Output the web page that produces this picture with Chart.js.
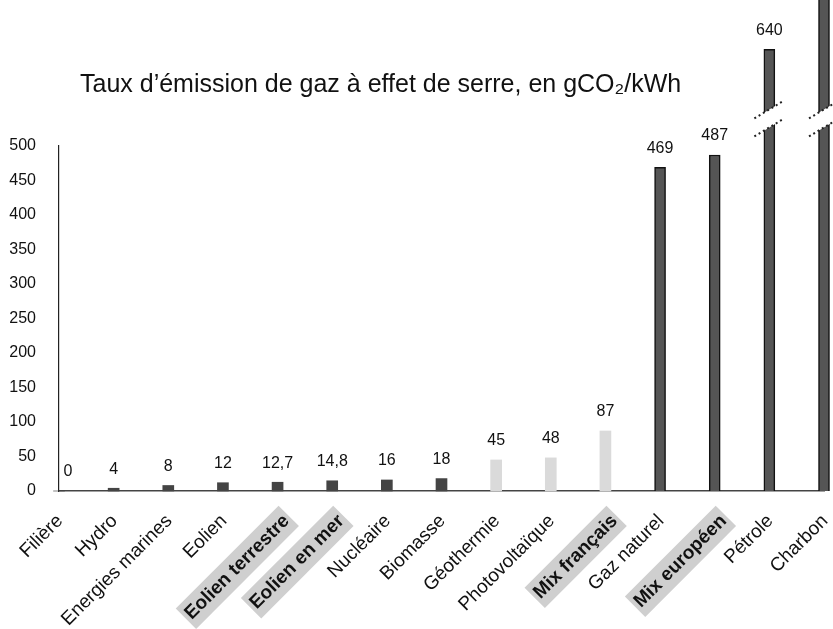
<!DOCTYPE html>
<html lang="fr">
<head>
<meta charset="utf-8">
<title>Taux d'émission de gaz à effet de serre</title>
<script src="https://cdn.jsdelivr.net/npm/chart.js@4.4.1/dist/chart.umd.min.js"></script>
<style>
  html, body { margin: 0; padding: 0; background: #fff; }
  #wrap { width: 833px; height: 629px; position: relative; }
</style>
</head>
<body>
<div id="wrap"><canvas id="chart"></canvas></div>
<script>
const filieres = ['Filière', 'Hydro', 'Energies marines', 'Eolien', 'Eolien terrestre', 'Eolien en mer',
  'Nucléaire', 'Biomasse', 'Géothermie', 'Photovoltaïque', 'Mix français', 'Gaz naturel',
  'Mix européen', 'Pétrole', 'Charbon'];
const emissions = [0, 4, 8, 12, 12.7, 14.8, 16, 18, 45, 48, 87, 469, 487, 640, 1001];
const yTicks = [0, 50, 100, 150, 200, 250, 300, 350, 400, 450, 500];
const highlighted = ['Eolien terrestre', 'Eolien en mer', 'Mix français', 'Mix européen'];
const titleText = 'Taux d’émission de gaz à effet de serre, en gCO₂/kWh';

const FONT = '"Liberation Sans", Arial, sans-serif';
const yMax = yTicks[yTicks.length - 1];

function barFill(v) {
  if (v >= 100) return '#555';
  if (v >= 30) return '#dadada';
  return '#444';
}

const frFormat = v => String(v).replace('.', ',');

// titre + étiquettes de valeurs + coupures sur les barres hors échelle
const decor = {
  id: 'decor',
  afterDatasetsDraw(chart) {
    const ctx = chart.ctx;
    const meta = chart.getDatasetMeta(0);
    const y = chart.scales.y;
    ctx.save();

    // coupures
    meta.data.forEach((bar, i) => {
      if (emissions[i] <= yMax) return;
      const yb = y.getPixelForValue(540);
      const half = 15, slope = 0.6, gap = 9;
      ctx.fillStyle = '#fff';
      ctx.beginPath();
      ctx.moveTo(bar.x - half, yb + gap + half * slope);
      ctx.lineTo(bar.x + half, yb + gap - half * slope);
      ctx.lineTo(bar.x + half, yb - gap - half * slope);
      ctx.lineTo(bar.x - half, yb - gap + half * slope);
      ctx.closePath();
      ctx.fill();
      ctx.strokeStyle = '#222';
      ctx.lineWidth = 2;
      ctx.setLineDash([2, 3]);
      [gap, -gap].forEach(d => {
        ctx.beginPath();
        ctx.moveTo(bar.x - half, yb + d + half * slope);
        ctx.lineTo(bar.x + half, yb + d - half * slope);
        ctx.stroke();
      });
      ctx.setLineDash([]);
    });

    // valeurs
    ctx.fillStyle = '#111';
    ctx.font = '16px ' + FONT;
    ctx.textAlign = 'center';
    ctx.textBaseline = 'middle';
    meta.data.forEach((bar, i) => {
      const ty = bar.y - 19;
      if (ty < 8) return;
      const tx = Math.max(bar.x, chart.chartArea.left + 9);
      ctx.fillText(frFormat(emissions[i]), tx, ty);
    });

    // titre
    ctx.font = '25px ' + FONT;
    ctx.textAlign = 'left';
    ctx.textBaseline = 'alphabetic';
    ctx.fillText(titleText, chart.chartArea.left + 21, chart.chartArea.top - 54);
    ctx.restore();
  }
};

new Chart(document.getElementById('chart'), {
  type: 'bar',
  data: {
    labels: filieres,
    datasets: [{
      data: emissions,
      backgroundColor: ctx => barFill(ctx.raw),
      borderColor: ctx => ctx.raw >= 100 ? '#111' : 'rgba(0,0,0,0)',
      borderWidth: ctx => ctx.raw >= 100 ? 1.5 : 0,
      borderSkipped: 'bottom',
      barThickness: 11,
      clip: false
    }]
  },
  options: {
    responsive: true,
    maintainAspectRatio: false,
    animation: false,
    layout: { padding: { top: 146, right: 9, bottom: 0, left: 0 } },
    plugins: {
      legend: { display: false },
      tooltip: { enabled: false },
      title: { display: false }
    },
    scales: {
      x: {
        offset: false,
        grid: { display: false },
        border: { display: true, color: '#444', width: 1.5, dash: [2, 4] },
        ticks: {
          autoSkip: false,
          maxRotation: 45,
          minRotation: 45,
          padding: 11,
          labelOffset: 1,
          color: '#111',
          font: ctx => ({
            family: FONT,
            size: 19,
            weight: highlighted.includes(filieres[ctx.index]) ? 'bold' : 'normal'
          }),
          showLabelBackdrop: ctx => highlighted.includes(filieres[ctx.index]),
          backdropColor: '#cfcfcf',
          backdropPadding: 3
        },
        afterFit(scale) {
          scale.height = 138;
          scale.paddingRight = 4;
        }
      },
      y: {
        min: 0,
        max: yMax,
        grid: { display: false },
        border: { display: true, color: '#222', width: 1.2 },
        afterBuildTicks(scale) {
          scale.ticks = yTicks.map(v => ({ value: v }));
        },
        ticks: {
          padding: 15,
          color: '#111',
          font: { family: FONT, size: 16 }
        },
        afterFit(scale) {
          scale.width = 59;
        }
      }
    }
  },
  plugins: [decor]
});
</script>
</body>
</html>
